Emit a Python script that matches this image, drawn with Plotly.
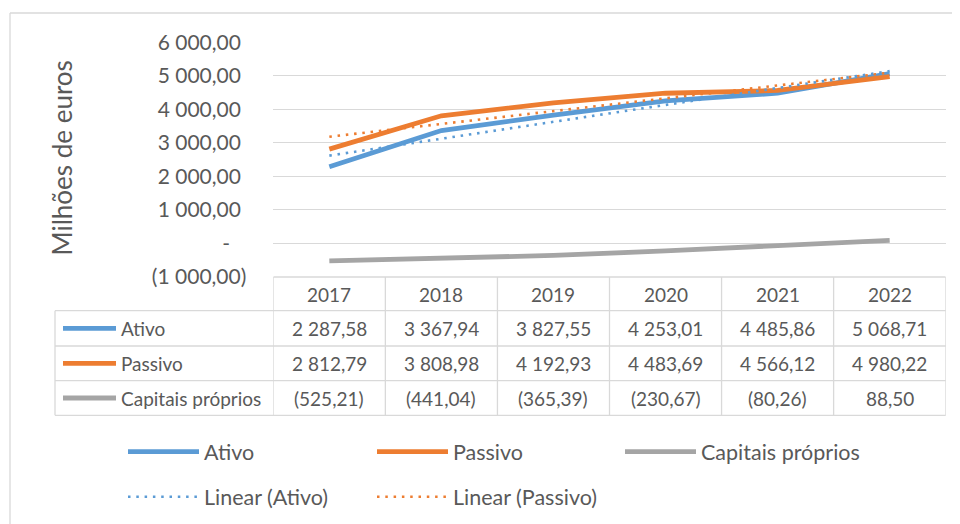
import numpy as np
import plotly.graph_objects as go

# ---------------- data ----------------
years = ["2017", "2018", "2019", "2020", "2021", "2022"]
ativo = [2287.58, 3367.94, 3827.55, 4253.01, 4485.86, 5068.71]
passivo = [2812.79, 3808.98, 4192.93, 4483.69, 4566.12, 4980.22]
capitais = [-525.21, -441.04, -365.39, -230.67, -80.26, 88.50]
series_names = ["Ativo", "Passivo", "Capitais próprios"]
trend_names = ["Linear (Ativo)", "Linear (Passivo)"]
tick_values = [-1000, 0, 1000, 2000, 3000, 4000, 5000, 6000]
tick_labels = ["(1 000,00)", "-", "1 000,00", "2 000,00", "3 000,00",
               "4 000,00", "5 000,00", "6 000,00"]
axis_title = "Milhões de euros"

# ---------------- style ----------------
W, H = 960, 524
OFF = 8  # page body margin
BLUE, ORANGE, GRAY = "#5B9BD5", "#ED7D31", "#A5A5A5"
TXT = "#595959"
BORDER = "#D9D9D9"
FONT = "Lato"
colors = [BLUE, ORANGE, GRAY]
DOT = "2.5px,5.8px"


def px_x(p):
    return (p - OFF) / W


def px_y(p):
    return 1 - (p - OFF) / H


def fmt(v):
    s = f"{abs(v):,.2f}".replace(",", " ").replace(".", ",")
    return f"({s})" if v < 0 else s


xs = list(range(len(years)))
series = [ativo, passivo, capitais]

fig = go.Figure()
for name, vals, col in zip(series_names, series, colors):
    fig.add_trace(go.Scatter(x=xs, y=vals, mode="lines", name=name,
                             line=dict(color=col, width=4.8),
                             showlegend=False, hoverinfo="skip"))

# linear trendlines (least squares, as Excel's "Linear" trendline)
for name, vals, col in zip(trend_names, [ativo, passivo], [BLUE, ORANGE]):
    coef = np.polyfit(xs, vals, 1)
    fig.add_trace(go.Scatter(x=xs, y=np.polyval(coef, xs), mode="lines",
                             name=name,
                             line=dict(color=col, width=2.6, dash=DOT),
                             showlegend=False, hoverinfo="skip"))

# tick labels padded to mimic accounting alignment
nb = "\u00a0"
ticktext = []
for t in tick_labels:
    if t.startswith("("):
        ticktext.append(t)
    elif t == "-":
        ticktext.append(t + nb * 3)
    else:
        ticktext.append(t + nb)

X0, X1 = 273.3, 945.7
Y0, Y1 = 42.5, 276.7

shapes = []
annotations = []
LW = 1.3

# outer chart border
shapes.append(dict(type="line", xref="paper", yref="paper",
                   x0=px_x(10), x1=px_x(975), y0=px_y(13), y1=px_y(13),
                   line=dict(color=BORDER, width=LW)))
shapes.append(dict(type="line", xref="paper", yref="paper",
                   x0=px_x(10), x1=px_x(10), y0=px_y(13), y1=px_y(540),
                   line=dict(color=BORDER, width=LW)))

# data table
row_lines = [310.7, 346.0, 380.7, 415.3]
header_top = 277.0
TL = 55.0
shapes.append(dict(type="line", xref="x", yref="paper", x0=-0.5, x1=len(years) - 0.5,
                   y0=px_y(header_top), y1=px_y(header_top),
                   line=dict(color=BORDER, width=LW)))
for r in row_lines:
    shapes.append(dict(type="line", xref="paper", yref="paper",
                       x0=px_x(TL), x1=px_x(X1), y0=px_y(r), y1=px_y(r),
                       line=dict(color=BORDER, width=LW)))
for i in range(len(years) + 1):
    shapes.append(dict(type="line", xref="x", yref="paper", x0=i - 0.5, x1=i - 0.5,
                       y0=px_y(header_top), y1=px_y(row_lines[-1]),
                       line=dict(color=BORDER, width=LW)))
shapes.append(dict(type="line", xref="paper", yref="paper", x0=px_x(TL), x1=px_x(TL),
                   y0=px_y(row_lines[0]), y1=px_y(row_lines[-1]),
                   line=dict(color=BORDER, width=LW)))

TFS = 19
for i, y in enumerate(years):
    annotations.append(dict(x=i, y=px_y(294), xref="x", yref="paper", text=y,
                            showarrow=False, font=dict(size=TFS, color=TXT, family=FONT),
                            xanchor="center", yanchor="middle"))
for r, (name, vals, col) in enumerate(zip(series_names, series, colors)):
    yc = (row_lines[r] + row_lines[r + 1]) / 2
    for i, v in enumerate(vals):
        annotations.append(dict(x=i, y=px_y(yc), xref="x", yref="paper", text=fmt(v),
                                showarrow=False,
                                font=dict(size=TFS, color=TXT, family=FONT),
                                xanchor="center", yanchor="middle"))
    shapes.append(dict(type="line", xref="paper", yref="paper",
                       x0=px_x(63), x1=px_x(116), y0=px_y(yc), y1=px_y(yc),
                       line=dict(color=col, width=4.8)))
    annotations.append(dict(x=px_x(118.5), y=px_y(yc), xref="paper", yref="paper",
                            text=name, showarrow=False,
                            font=dict(size=TFS, color=TXT, family=FONT),
                            xanchor="left", yanchor="middle"))

# legend (drawn)
LFS = 21.5
leg_items = [
    (series_names[0], BLUE, None, 128, 451.7),
    (series_names[1], ORANGE, None, 377, 451.7),
    (series_names[2], GRAY, None, 625, 451.7),
    (trend_names[0], BLUE, DOT, 128, 496.7),
    (trend_names[1], ORANGE, DOT, 377, 496.7),
]
for name, col, dash, lx, ly in leg_items:
    shapes.append(dict(type="line", xref="paper", yref="paper",
                       x0=px_x(lx), x1=px_x(lx + 71), y0=px_y(ly), y1=px_y(ly),
                       line=dict(color=col, width=4.8 if dash is None else 2.6,
                                 dash=dash if dash else "solid")))
    annotations.append(dict(x=px_x(lx + 74), y=px_y(ly), xref="paper", yref="paper",
                            text=name, showarrow=False,
                            font=dict(size=LFS, color=TXT, family=FONT),
                            xanchor="left", yanchor="middle"))

# axis title
annotations.append(dict(x=px_x(61), y=px_y(158.5), xref="paper", yref="paper",
                        text=axis_title, textangle=-90, showarrow=False,
                        font=dict(size=26, color=TXT, family=FONT),
                        xanchor="center", yanchor="middle"))

fig.update_layout(
    template="none",
    width=W, height=H, autosize=False,
    margin=dict(l=0, r=0, t=0, b=0, pad=0, autoexpand=False),
    paper_bgcolor="white", plot_bgcolor="white",
    font=dict(family=FONT, color=TXT),
    showlegend=False,
    xaxis=dict(domain=[px_x(X0), px_x(X1)], range=[-0.5, len(years) - 0.5],
               showgrid=False, zeroline=False, showticklabels=False,
               showline=False, ticks="", automargin=False),
    yaxis=dict(domain=[px_y(Y1), px_y(Y0)], range=[-1000, 6000],
               tickvals=tick_values, ticktext=ticktext,
               showgrid=True, gridcolor=BORDER, gridwidth=LW,
               zeroline=False, showline=False, ticks="", automargin=False,
               ticklabelstandoff=26,
               tickfont=dict(size=21, color=TXT, family=FONT)),
    shapes=shapes,
    annotations=annotations,
)

fig.write_html("out.html")
